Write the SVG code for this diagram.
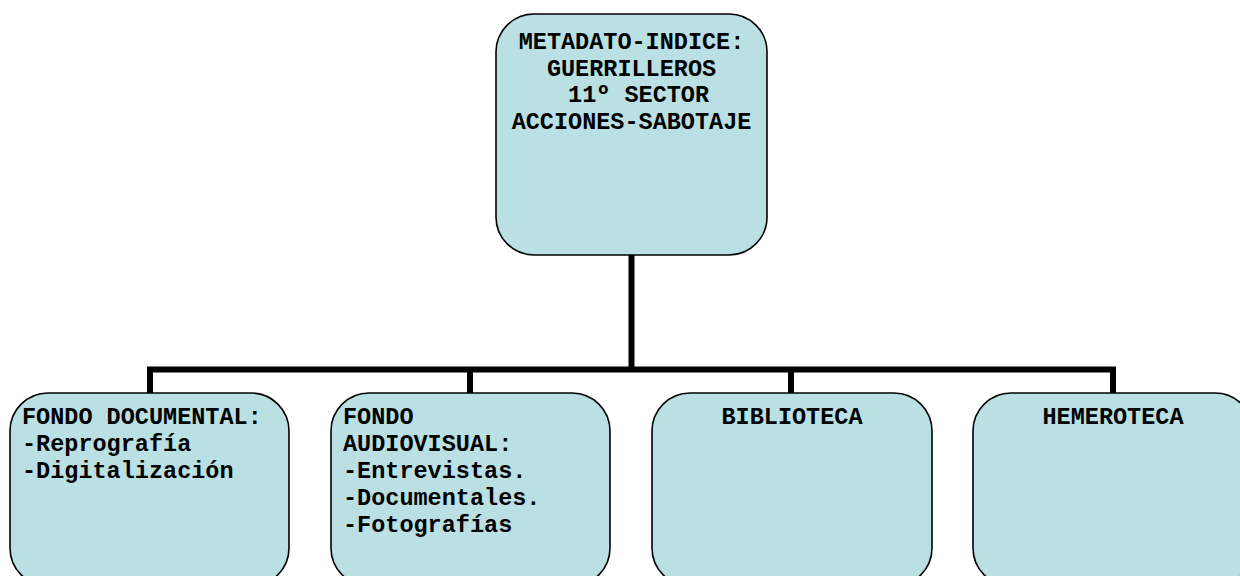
<svg xmlns="http://www.w3.org/2000/svg" width="1240" height="576" viewBox="0 0 1240 576">
<style>
.box{fill:#BAE0E3;stroke:#000;stroke-width:1.6}
.t{font-family:"Liberation Mono","Courier New",monospace;font-weight:bold;font-size:23.5px;fill:#000;white-space:pre}
.c{text-anchor:middle}
.conn{fill:none;stroke:#000;stroke-width:6;stroke-linecap:butt;stroke-linejoin:miter}
</style>
<rect width="1240" height="576" fill="#fff"/>
<g id="connectors">
<path class="conn" d="M631.5 255 V369.5 M150 393 V369.5 H1113 V393 M470 369.5 V393 M791 369.5 V393"/>
</g>
<g id="node-root">
<rect class="box" x="496" y="14" width="271" height="241" rx="38" ry="38"/>
<text class="t c" x="631.5" y="49">METADATO-INDICE:</text>
<text class="t c" x="631.5" y="75.5">GUERRILLEROS</text>
<text class="t c" x="631.5" y="102" xml:space="preserve"> 11º SECTOR</text>
<text class="t c" x="631.5" y="128.5">ACCIONES-SABOTAJE</text>
</g>
<g id="node-fondo-documental">
<rect class="box" x="10" y="393" width="279" height="193" rx="38" ry="38"/>
<text class="t" x="22" y="424">FONDO DOCUMENTAL:</text>
<text class="t" x="22" y="451">-Reprografía</text>
<text class="t" x="22" y="478">-Digitalización</text>
</g>
<g id="node-fondo-audiovisual">
<rect class="box" x="331" y="393" width="279" height="193" rx="38" ry="38"/>
<text class="t" x="343" y="424">FONDO</text>
<text class="t" x="343" y="451">AUDIOVISUAL:</text>
<text class="t" x="343" y="478">-Entrevistas.</text>
<text class="t" x="343" y="505">-Documentales.</text>
<text class="t" x="343" y="532">-Fotografías</text>
</g>
<g id="node-biblioteca">
<rect class="box" x="652" y="393" width="280" height="193" rx="38" ry="38"/>
<text class="t c" x="792" y="424">BIBLIOTECA</text>
</g>
<g id="node-hemeroteca">
<rect class="box" x="973" y="393" width="280" height="193" rx="38" ry="38"/>
<text class="t c" x="1113" y="424">HEMEROTECA</text>
</g>
</svg>
